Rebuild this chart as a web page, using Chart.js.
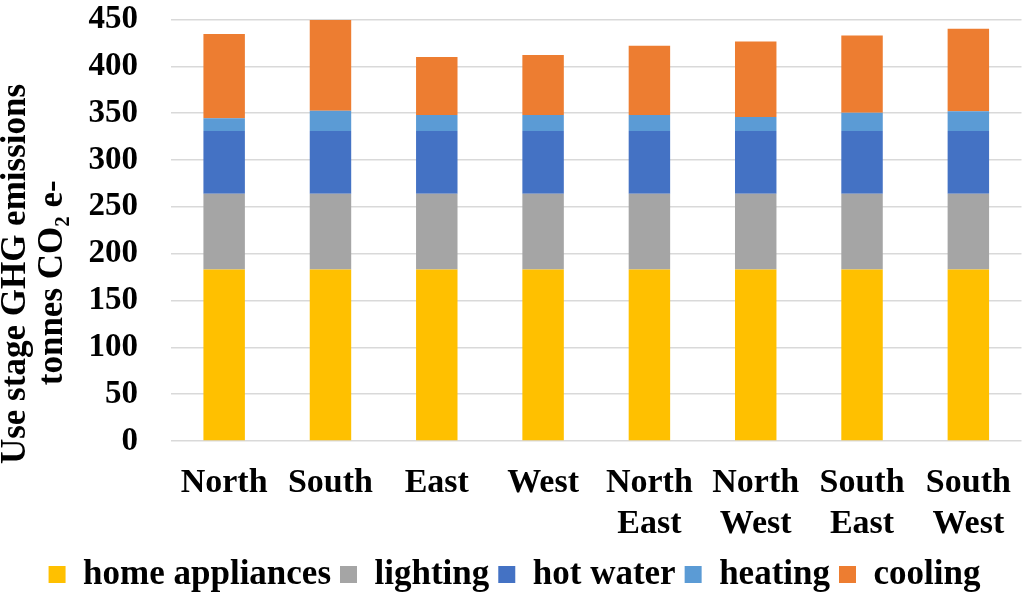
<!DOCTYPE html>
<html>
<head>
<meta charset="utf-8">
<script src="https://cdn.jsdelivr.net/npm/chart.js@4"></script>
<style>
  html, body { margin: 0; padding: 0; background: #fff; }
  #wrap { width: 1033px; height: 595px; }
</style>
</head>
<body>
<div id="wrap"><canvas id="chart"></canvas></div>
<script>
// categories and stacked series (tonnes CO2 e-)
const categories = ['North', 'South', 'East', 'West', ['North', 'East'], ['North', 'West'], ['South', 'East'], ['South', 'West']];
const homeAppliances = [183, 183, 183, 183, 183, 183, 183, 183];
const lighting       = [81, 81, 81, 81, 81, 81, 81, 81];
const hotWater       = [67, 67, 67, 67, 67, 67, 67, 67];
const heating        = [13.5, 21.5, 17, 17, 17, 15, 19.5, 21];
const cooling        = [90, 97, 62, 64, 74, 80.5, 82.5, 88];
const yTicks = { min: 0, max: 450, step: 50 };

const FONT = "'Times New Roman', 'Liberation Serif', serif";

const COLORS = {
  home:  '#FFC000',
  light: '#A5A5A5',
  hot:   '#4472C4',
  heat:  '#5B9BD5',
  cool:  '#ED7D31',
};

function barDS(label, data, color) {
  return {
    label, data,
    backgroundColor: color,
    borderWidth: 0,
    categoryPercentage: 1,
    barPercentage: 0.39,
  };
}

// trailing spaces push each title line down, the Excel title sits below the plot centre
const titleLines = ['Use stage GHG emissions' + ' '.repeat(10), 'tonnes CO\u2082 e-' + ' '.repeat(12)];

new Chart(document.getElementById('chart'), {
  type: 'bar',
  data: {
    labels: categories,
    datasets: [
      barDS('home appliances', homeAppliances, COLORS.home),
      barDS('lighting', lighting, COLORS.light),
      barDS('hot water', hotWater, COLORS.hot),
      barDS('heating', heating, COLORS.heat),
      barDS('cooling', cooling, COLORS.cool),
    ],
  },
  options: {
    responsive: true,
    maintainAspectRatio: false,
    animation: false,
    layout: { padding: { left: -2, right: 2, top: 0, bottom: -7 } },
    plugins: {
      tooltip: { enabled: false },
      legend: {
        display: true,
        position: 'bottom',
        labels: {
          color: '#000',
          font: { family: FONT, size: 35, weight: 'bold', lineHeight: 1.0 },
          boxWidth: 17,
          boxHeight: 17,
          padding: 9,
        },
      },
    },
    scales: {
      x: {
        stacked: true,
        grid: { display: false, drawTicks: false },
        border: { display: false },
        ticks: {
          color: '#000',
          font: { family: FONT, size: 34, weight: 'bold', lineHeight: 1.2 },
          padding: 22,
          maxRotation: 0,
          autoSkip: false,
        },
        afterFit: (axis) => { axis.height = 107; },
      },
      y: {
        stacked: true,
        min: yTicks.min,
        max: yTicks.max,
        grid: { color: '#d9d9d9', lineWidth: 1.5, drawTicks: false },
        border: { display: false },
        ticks: {
          stepSize: yTicks.step,
          color: '#000',
          font: { family: FONT, size: 33, weight: 'bold' },
          padding: 33,
        },
        title: {
          display: true,
          text: titleLines,
          color: '#000',
          font: { family: FONT, size: 35, weight: 'bold', lineHeight: 1.05 },
          padding: { top: 0, bottom: 16 },
        },
        afterFit: (axis) => {
          axis.width = 173;
          axis.paddingTop = 19.5;
          axis.paddingBottom = 20;
        },
      },
    },
  },
});
</script>
</body>
</html>
